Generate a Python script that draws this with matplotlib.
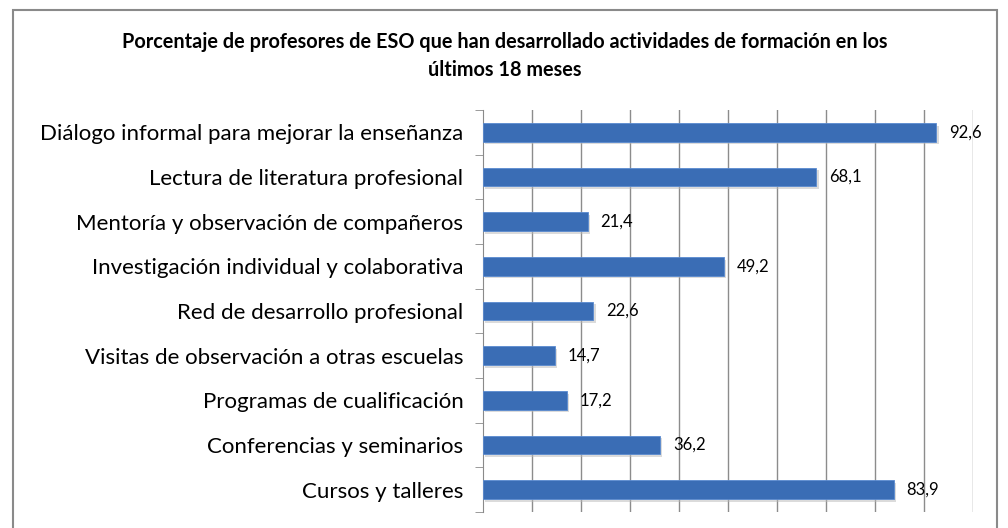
import numpy as np
import matplotlib
matplotlib.use("Agg")
from matplotlib import pyplot as plt
from matplotlib.patches import Rectangle

categorias = ["Diálogo informal para mejorar la enseñanza",
              "Lectura de literatura profesional",
              "Mentoría y observación de compañeros",
              "Investigación individual y colaborativa",
              "Red de desarrollo profesional",
              "Visitas de observación a otras escuelas",
              "Programas de cualificación",
              "Conferencias y seminarios",
              "Cursos y talleres"]
valores = [92.6, 68.1, 21.4, 49.2, 22.6, 14.7, 17.2, 36.2, 83.9]
etiquetas = ["92,6", "68,1", "21,4", "49,2", "22,6", "14,7", "17,2", "36,2", "83,9"]
titulo = "Porcentaje de profesores de ESO que han desarrollado actividades de formación en los\núltimos 18 meses"

plt.rcParams['font.family'] = ['Lato', 'DejaVu Sans']

fig = plt.figure(figsize=(10.08, 5.28), dpi=100)
ax = fig.add_axes([482.7/1008, 1-512/528, (972.5-482.7)/1008, (512-110)/528])

# marco exterior del grafico
fig.patches.append(Rectangle((12.5/1008, -0.1), (997-12.5)/1008, 1.1-10.5/528,
                             transform=fig.transFigure, fill=False,
                             edgecolor="#8a8a8a", lw=1.5))

y = np.arange(len(categorias))
# sombra
ax.barh(y + 0.06, valores, height=0.42, left=0.5, color="#b8b8b8", alpha=0.5, zorder=2)
ax.barh(y, valores, height=0.42, color="#3a6db5", edgecolor="#5a8ad0", lw=0.6, zorder=3)

for yi, v, t in zip(y, valores, etiquetas):
    ax.text(v + 2.65, yi, t, va="center", ha="left", fontsize=12, color="black")

ax.set_xlim(0, 100)
ax.set_ylim(8.5, -0.5)
ax.set_xticks(np.arange(10, 101, 10))
ax.xaxis.grid(True, color="#8c8c8c", lw=1)
ax.set_axisbelow(True)
ax.tick_params(axis="x", length=0, labelbottom=False)

ax.set_yticks(y)
ax.set_yticklabels(categorias, fontsize=16)
ax.tick_params(axis="y", which="major", length=0, pad=14)
ax.set_yticks(np.arange(-0.5, 9, 1), minor=True)
ax.tick_params(axis="y", which="minor", length=6, color="#8a8a8a")

for s in ["top", "right", "bottom"]:
    ax.spines[s].set_visible(False)
ax.spines["left"].set_color("#8a8a8a")

fig.text(505/1008, 1-56/528, titulo, ha="center", va="center", fontsize=14.3,
         fontweight="bold", linespacing=1.45)

plt.savefig("out.png", dpi=100)
